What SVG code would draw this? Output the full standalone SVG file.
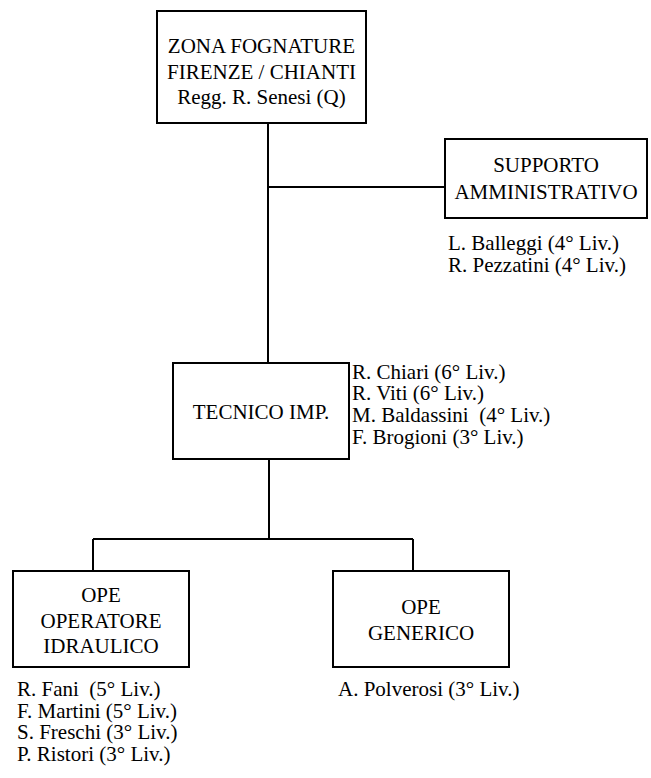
<svg xmlns="http://www.w3.org/2000/svg" width="651" height="778" viewBox="0 0 651 778">
<style>
.box{fill:#fff;stroke:#000;stroke-width:2}
.ln{fill:none;stroke:#000;stroke-width:2}
text{font-family:"Liberation Serif","Times New Roman",serif;font-size:21px;fill:#000;white-space:pre}
.c{text-anchor:middle}
</style>
<rect width="651" height="778" fill="#fff"/>
<g id="connectors">
<path class="ln" d="M268 123V363M268 187H445"/>
<path class="ln" d="M269 459V539M93 539H413M93 539V571M413 539V571"/>
</g>
<g id="zona">
<rect class="box" x="157" y="11" width="209" height="112"/>
<text class="c" x="261.5" y="53">ZONA FOGNATURE</text>
<text class="c" x="261.5" y="79">FIRENZE / CHIANTI</text>
<text class="c" x="261.5" y="104">Regg. R. Senesi (Q)</text>
</g>
<g id="supporto">
<rect class="box" x="445" y="139" width="202" height="79"/>
<text class="c" x="546" y="172">SUPPORTO</text>
<text class="c" x="546" y="199">AMMINISTRATIVO</text>
<text x="448" y="250">L. Balleggi (4° Liv.)</text>
<text x="448" y="272">R. Pezzatini (4° Liv.)</text>
</g>
<g id="tecnico">
<rect class="box" x="173" y="363" width="176" height="96"/>
<text class="c" x="261" y="419">TECNICO IMP.</text>
<text x="352" y="379">R. Chiari (6° Liv.)</text>
<text x="352" y="400">R. Viti (6° Liv.)</text>
<text x="352" y="422">M. Baldassini  (4° Liv.)</text>
<text x="352" y="444">F. Brogioni (3° Liv.)</text>
</g>
<g id="operatore">
<rect class="box" x="13" y="571" width="176" height="96"/>
<text class="c" x="101" y="602">OPE</text>
<text class="c" x="101" y="628">OPERATORE</text>
<text class="c" x="101" y="653">IDRAULICO</text>
<text x="17" y="696">R. Fani  (5° Liv.)</text>
<text x="17" y="718">F. Martini (5° Liv.)</text>
<text x="17" y="739">S. Freschi (3° Liv.)</text>
<text x="17" y="761">P. Ristori (3° Liv.)</text>
</g>
<g id="generico">
<rect class="box" x="333" y="571" width="176" height="96"/>
<text class="c" x="421" y="614">OPE</text>
<text class="c" x="421" y="640">GENERICO</text>
<text x="338" y="696">A. Polverosi (3° Liv.)</text>
</g>
</svg>
